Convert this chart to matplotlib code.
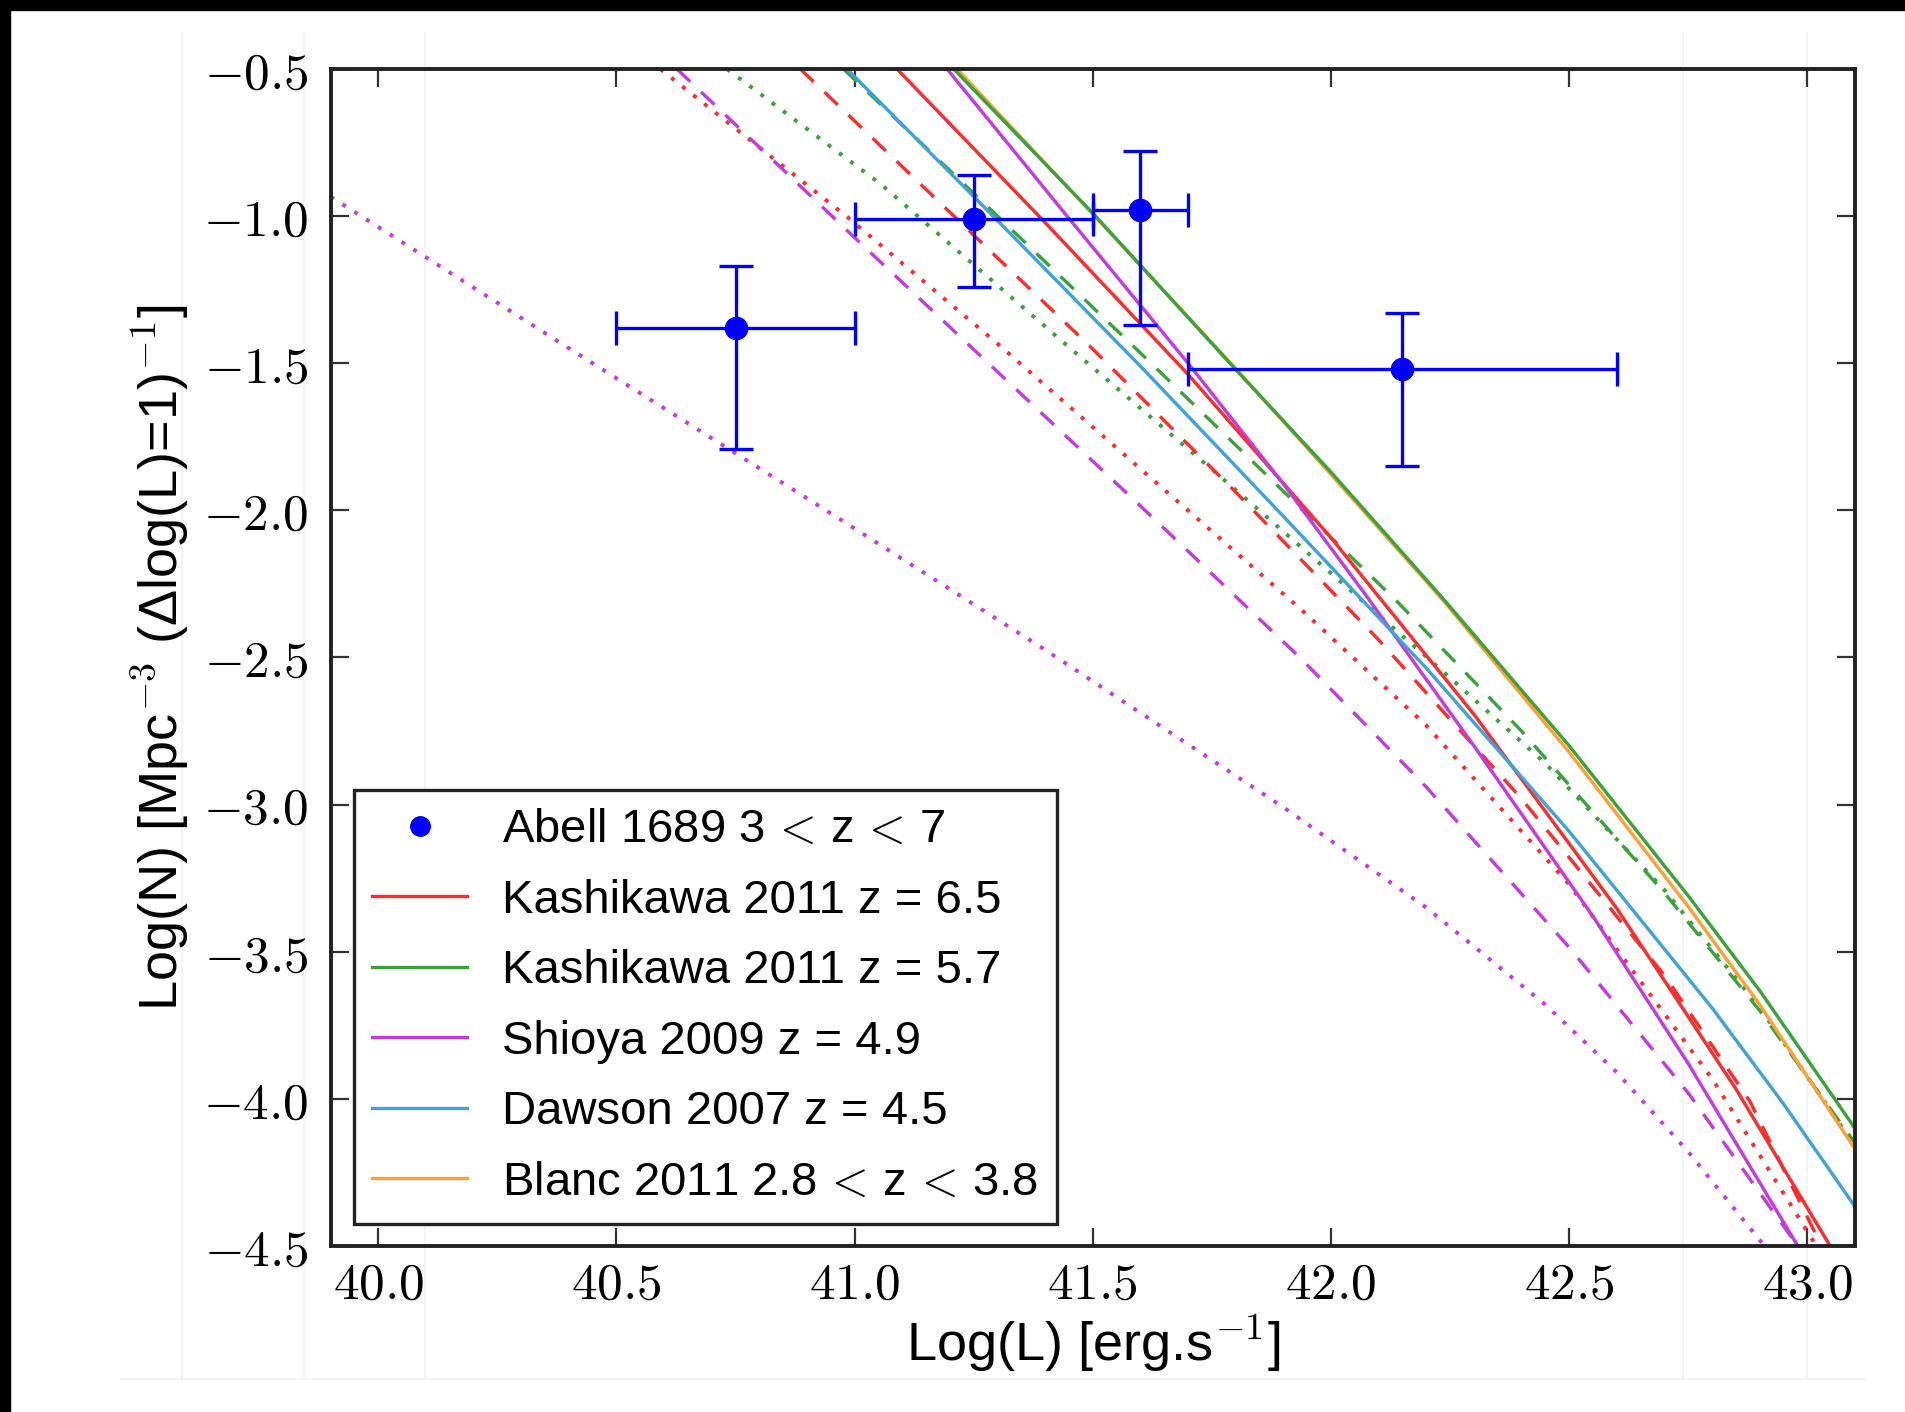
import matplotlib
matplotlib.use("Agg")
import matplotlib.pyplot as plt
from matplotlib.patches import Rectangle
from matplotlib.lines import Line2D

plt.rcParams['mathtext.fontset'] = 'cm'
plt.rcParams['axes.unicode_minus'] = True

# ---------------- data ----------------
# Abell 1689 points
obs_L = [40.75, 41.25, 41.60, 42.15]
obs_N = [-1.38, -1.01, -0.98, -1.52]
obs_xerr_lo = [0.25, 0.25, 0.10, 0.45]
obs_xerr_hi = [0.25, 0.25, 0.10, 0.45]
obs_yerr_lo = [0.41, 0.23, 0.39, 0.33]
obs_yerr_hi = [0.21, 0.15, 0.20, 0.19]

# Kashikawa 2011 z=6.5 (red)
k65_solid_L = [41.089, 41.4, 41.7, 42.0, 42.3, 42.6, 42.85, 43.05]
k65_solid_N = [-0.5, -1.022, -1.538, -2.093, -2.693, -3.353, -3.966, -4.506]
k65_dash_L = [40.886, 41.2, 41.5, 41.8, 42.1, 42.4, 42.7, 42.88, 43.03]
k65_dash_N = [-0.5, -0.987, -1.452, -1.938, -2.44, -2.98, -3.58, -4.01, -4.50]
k65_dot_L = [40.592, 40.984, 41.299, 41.936, 42.2, 42.5, 42.8, 43.02]
k65_dot_N = [-0.5, -1.002, -1.432, -2.335, -2.731, -3.271, -3.931, -4.503]

# Kashikawa 2011 z=5.7 (green)
k57_solid_L = [41.208, 41.5, 41.785, 42.0, 42.23, 42.5, 42.75, 42.9, 43.1]
k57_solid_N = [-0.5, -0.99, -1.495, -1.87, -2.29, -2.80, -3.31, -3.632, -4.10]
k57_dash_L = [40.977, 41.3, 41.6, 41.9, 42.139, 42.4, 42.7, 42.9, 43.1]
k57_dash_N = [-0.5, -1.0, -1.465, -1.935, -2.31, -2.75, -3.30, -3.70, -4.15]
k57_dot_L = [40.732, 41.054, 41.439, 41.8, 42.244, 42.45, 42.7, 42.9, 43.1]
k57_dot_N = [-0.5, -0.89, -1.43, -1.93, -2.56, -2.86, -3.29, -3.69, -4.16]

# Shioya 2009 z=4.9 (magenta)
s49_solid_L = [41.194, 41.446, 41.70, 41.90, 42.074, 42.30, 42.55, 42.75, 42.98]
s49_solid_N = [-0.5, -1.0, -1.5, -1.91, -2.29, -2.80, -3.38, -3.88, -4.5]
s49_dash_L = [40.627, 40.998, 41.236, 41.6, 41.936, 42.2, 42.5, 42.75, 42.98]
s49_dash_N = [-0.5, -1.070, -1.432, -1.985, -2.502, -2.94, -3.485, -3.98, -4.5]
s49_dot_L = [39.90, 40.4, 40.9, 41.4, 41.9, 42.2, 42.45, 42.6, 42.75, 42.91]
s49_dot_N = [-0.934, -1.449, -1.959, -2.474, -3.009, -3.35, -3.68, -3.91, -4.18, -4.5]

# Dawson 2007 z=4.5 (cyan)
d45_solid_L = [40.984, 41.3, 41.6, 41.9, 42.2, 42.5, 42.8, 42.95, 43.1]
d45_solid_N = [-0.5, -1.015, -1.51, -2.02, -2.536, -3.091, -3.691, -4.017, -4.366]

# Blanc 2011 2.8<z<3.8 (orange)
b11_solid_L = [41.215, 41.5, 41.79, 42.0, 42.236, 42.5, 42.75, 42.9, 43.1]
b11_solid_N = [-0.5, -0.993, -1.5, -1.878, -2.307, -2.822, -3.347, -3.68, -4.17]

labels = [r"Abell 1689 3 $\!<\!$ z $\!<\!$ 7",
          "Kashikawa 2011 z = 6.5",
          "Kashikawa 2011 z = 5.7",
          "Shioya 2009 z = 4.9",
          "Dawson 2007 z = 4.5",
          r"Blanc 2011 2.8 $\!<\!$ z $\!<\!$ 3.8"]

xticks = [40.0, 40.5, 41.0, 41.5, 42.0, 42.5, 43.0]
yticks = [-0.5, -1.0, -1.5, -2.0, -2.5, -3.0, -3.5, -4.0, -4.5]

# ---------------- style ----------------
c_red = '#ff2a2a'
c_green = '#3aa23a'
c_mag = '#c53ae0'
c_cyan = '#3fa3d8'
c_orange = '#ffa030'
c_blue = '#0000ff'
lw = 2.4
dot = (0, (1.0, 2.6))
dash = (0, (5.5, 4.5))

sans = ['Liberation Sans', 'DejaVu Sans']

W, H = 1906, 1412
fig = plt.figure(figsize=(W / 100, H / 100), dpi=100)
fig.patch.set_facecolor('white')

# faint background guide lines of the screenshot (behind everything)
for px in [182, 304, 425, 1683, 1807]:
    fig.lines.append(Line2D([px / W, px / W], [1 - 33 / H, 1 - 1379 / H],
                            transform=fig.transFigure, color='#f2f2f2',
                            lw=1.2, zorder=-5))
fig.lines.append(Line2D([121 / W, 1865 / W], [1 - 1379 / H, 1 - 1379 / H],
                        transform=fig.transFigure, color='#f2f2f2',
                        lw=1.2, zorder=-5))

ax = fig.add_axes([0.1735, 0.1176, 0.9732 - 0.1735, 0.9511 - 0.1176])
ax.patch.set_alpha(0.0)

# model curves
ax.plot(s49_dot_L, s49_dot_N, color=c_mag, lw=lw + 0.4, ls=dot)
ax.plot(k65_dot_L, k65_dot_N, color=c_red, lw=lw + 0.4, ls=dot)
ax.plot(s49_dash_L, s49_dash_N, color=c_mag, lw=lw, ls=dash)
ax.plot(k57_dot_L, k57_dot_N, color=c_green, lw=lw + 0.4, ls=dot)
ax.plot(k65_dash_L, k65_dash_N, color=c_red, lw=lw, ls=dash)
ax.plot(k57_dash_L, k57_dash_N, color=c_green, lw=lw, ls=dash)

h_k65, = ax.plot(k65_solid_L, k65_solid_N, color=c_red, lw=lw)
h_s49, = ax.plot(s49_solid_L, s49_solid_N, color=c_mag, lw=lw)
h_d45, = ax.plot(d45_solid_L, d45_solid_N, color=c_cyan, lw=lw)
h_b11, = ax.plot(b11_solid_L, b11_solid_N, color=c_orange, lw=lw)
h_k57, = ax.plot(k57_solid_L, k57_solid_N, color=c_green, lw=lw)

ax.errorbar(obs_L, obs_N,
            xerr=[obs_xerr_lo, obs_xerr_hi],
            yerr=[obs_yerr_lo, obs_yerr_hi],
            fmt='o', color=c_blue, ms=16, lw=2.4, capsize=12,
            capthick=2.4, zorder=5)
h_obs, = ax.plot([], [], 'o', color=c_blue, ms=14)

ax.set_xlim(39.9, 43.1)
ax.set_ylim(-4.5, -0.5)
ax.set_xticks(xticks)
ax.set_yticks(yticks)
ax.set_xticklabels([f"${v:.1f}$" for v in xticks])
ax.set_yticklabels([f"${v:.1f}$" for v in yticks])
ax.tick_params(axis='both', which='major', direction='in', length=13,
               width=1.6, top=True, right=True, labelsize=37, color='#333333')
ax.tick_params(axis='x', pad=10)
ax.tick_params(axis='y', pad=16)
for s in ax.spines.values():
    s.set_linewidth(2.8)
    s.set_color('#222222')

ax.set_xlabel("Log(L) [erg.s$^{-1}$]", fontsize=39, family=sans, labelpad=2)
ax.set_ylabel("Log(N) [Mpc$^{-3}$ (\u0394log(L)=1)$^{-1}$]", fontsize=39,
              family=sans, labelpad=8)

leg = ax.legend([h_obs, h_k65, h_k57, h_s49, h_d45, h_b11], labels,
                loc='lower left', bbox_to_anchor=(0.015, 0.019),
                numpoints=1, fancybox=False, framealpha=1, edgecolor='#222222',
                prop={'family': sans, 'size': 34}, handlelength=2.0,
                handletextpad=0.75, labelspacing=0.56, borderpad=0.4,
                borderaxespad=0)
leg.get_frame().set_linewidth(2.4)

# screenshot border (black strips at top and left)
fig.patches.append(Rectangle((0, 1 - 10 / H), 1, 10 / H,
                             transform=fig.transFigure, color='black',
                             zorder=10))
fig.patches.append(Rectangle((0, 0), 10 / W, 1,
                             transform=fig.transFigure, color='black',
                             zorder=10))

fig.savefig("out.png", dpi=100, facecolor='white')
